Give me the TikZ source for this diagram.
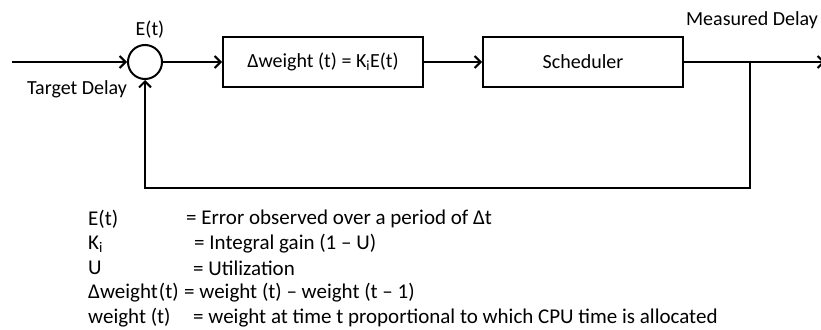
\documentclass[tikz,border=0pt]{standalone}
\usepackage{fontspec}
\setmainfont{Carlito}
\usetikzlibrary{arrows.meta}
\usetikzlibrary{positioning}

\tikzset{
  blk/.style={draw, line width=2pt, minimum width=200pt, minimum height=50pt, font=\fontsize{20}{24}\selectfont},
  sumnode/.style={draw, circle, line width=2pt, minimum size=34pt, inner sep=0pt},
  sig/.style={line width=2pt, -{Straight Barb[length=6pt,width=12pt,line width=2pt]}},
  lbl/.style={font=\fontsize{20}{24}\selectfont, inner sep=0pt},
  keytxt/.style={font=\fontsize{21}{24}\selectfont, inner sep=0pt, anchor=west},
}

\begin{document}
\begin{tikzpicture}[x=1pt,y=-1pt]
\useasboundingbox (0,0) rectangle (821,329);
% loop
\node[sumnode] (sum) at (145,62) {};
\node[blk] (ctrl) at (323,62) {Δweight (t) = K\textsubscript{i}E(t)};
\node[blk] (sched) at (583,62) {Scheduler};
\coordinate (in) at (12,62);
\coordinate (branch) at (750,62);
\coordinate (out) at (825,62);
\coordinate (fb) at (750,188);
\draw[sig] (in) -- (sum);
\draw[sig] (sum) -- (ctrl);
\draw[sig] (ctrl) -- (sched);
\draw[sig] (sched) -- (out);
\draw[sig] (branch) -- (fb) -| (sum);
\node[lbl] (err) at (150,30) {E(t)};
\node[lbl] (target) at (77,89) {Target Delay};
\node[lbl] (meas) at (752,20) {Measured Delay};
% legend
\node[keytxt] (k1) at (88,219) {E(t)};
\node[keytxt] (v1) at (186,219) {= Error observed over a period of Δt};
\node[keytxt] (k2) at (88,244) {K\textsubscript{i}};
\node[keytxt] (v2) at (194,244) {= Integral gain (1 -- U)};
\node[keytxt] (k3) at (88,268) {U};
\node[keytxt] (v3) at (193,268) {= Utilization};
\node[keytxt] (k4) at (88,293) {Δweight\kern1pt(t)};
\node[keytxt] (v4) at (184,293) {= weight (t) -- weight (t -- 1)};
\node[keytxt] (k5) at (88,318) {weight (t)};
\node[keytxt] (v5) at (193,318) {= weight at time t proportional to which CPU time is allocated};
\end{tikzpicture}
\end{document}
